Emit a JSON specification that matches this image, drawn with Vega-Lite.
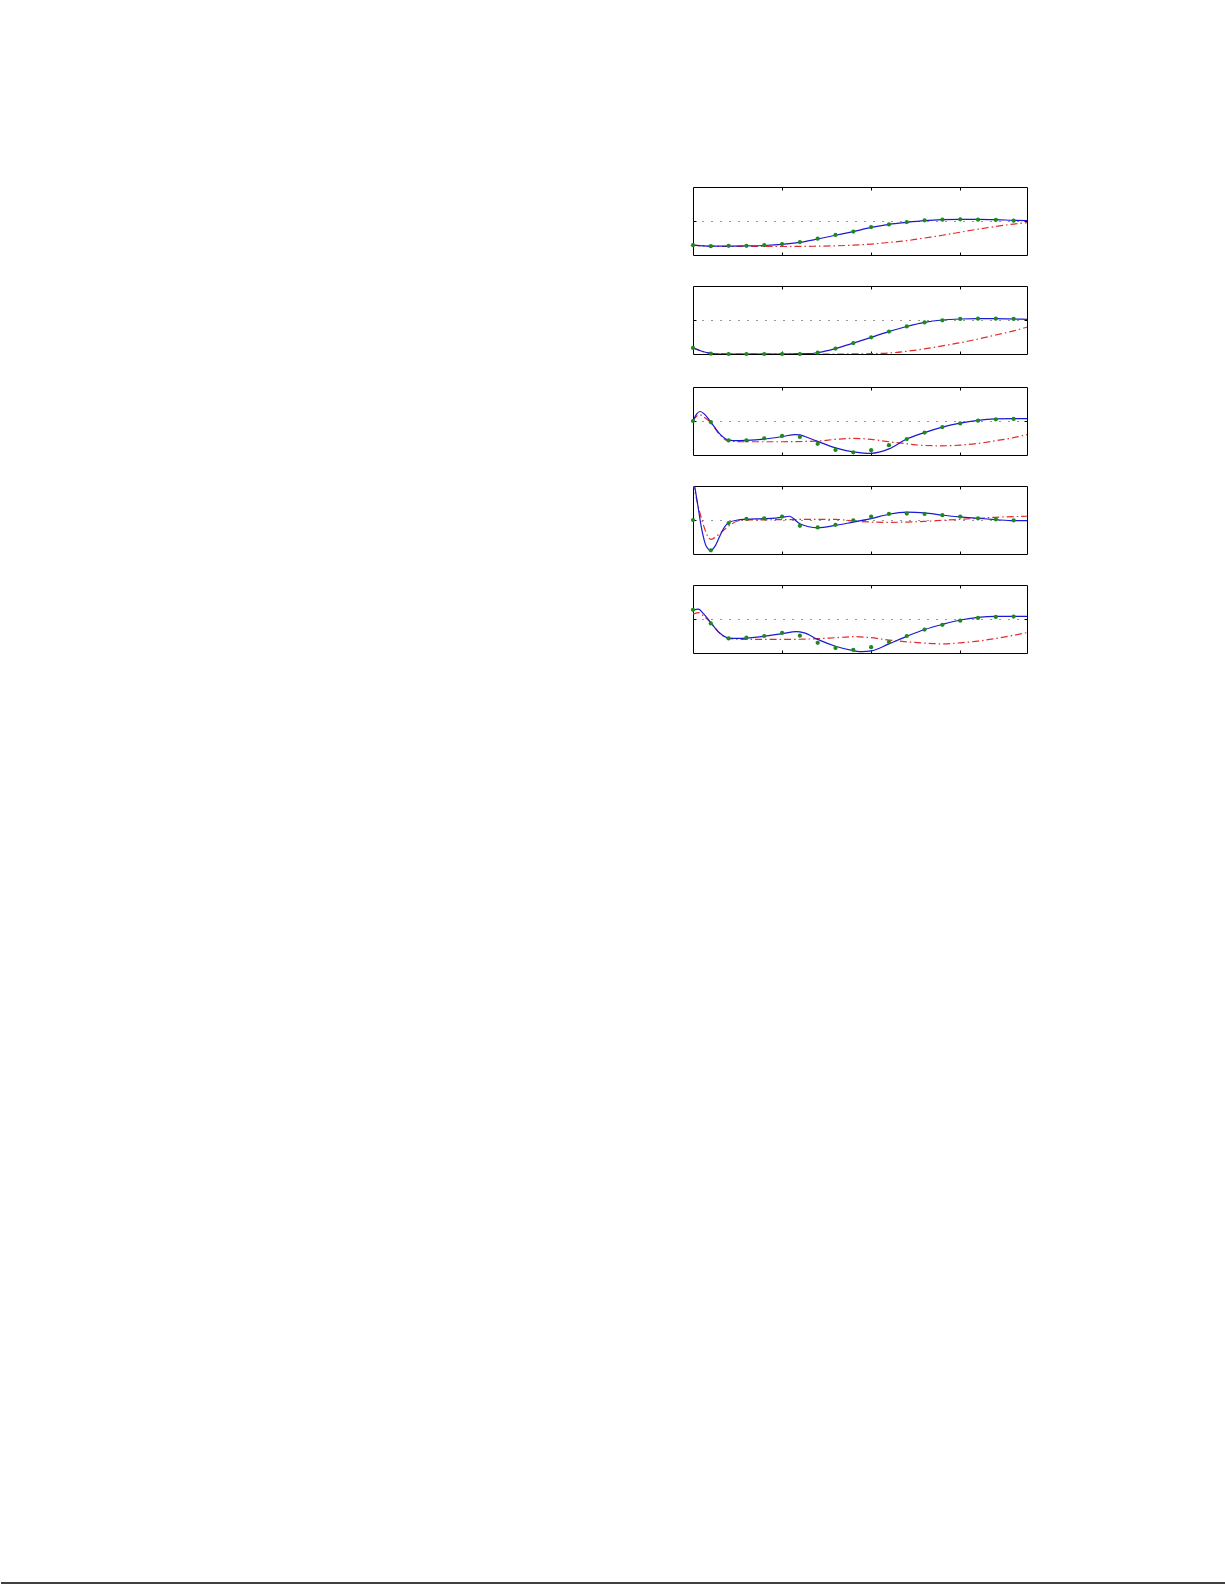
{
  "$schema": "https://vega.github.io/schema/vega-lite/v6.json",
  "padding": {"top": 186, "left": 0, "right": 0, "bottom": 0},
  "background": "white",
  "datasets": {
    "d": [
      {"p":1,"s":"b","x":0,"y":-0.71},{"p":1,"s":"b","x":0.2,"y":-0.74},{"p":1,"s":"b","x":0.4,"y":-0.74},{"p":1,"s":"b","x":0.6,"y":-0.73},{"p":1,"s":"b","x":0.8,"y":-0.72},{"p":1,"s":"b","x":1.0,"y":-0.69},{"p":1,"s":"b","x":1.2,"y":-0.63},{"p":1,"s":"b","x":1.4,"y":-0.53},{"p":1,"s":"b","x":1.6,"y":-0.42},{"p":1,"s":"b","x":1.8,"y":-0.31},{"p":1,"s":"b","x":2.0,"y":-0.19},{"p":1,"s":"b","x":2.2,"y":-0.10},{"p":1,"s":"b","x":2.4,"y":-0.04},{"p":1,"s":"b","x":2.6,"y":0.01},{"p":1,"s":"b","x":2.8,"y":0.04},{"p":1,"s":"b","x":3.0,"y":0.05},{"p":1,"s":"b","x":3.2,"y":0.05},{"p":1,"s":"b","x":3.4,"y":0.04},{"p":1,"s":"b","x":3.6,"y":0.02},{"p":1,"s":"b","x":3.75,"y":0.01},
      {"p":1,"s":"g","x":0,"y":-0.71},{"p":1,"s":"g","x":0.2,"y":-0.74},{"p":1,"s":"g","x":0.4,"y":-0.73},{"p":1,"s":"g","x":0.6,"y":-0.73},{"p":1,"s":"g","x":0.8,"y":-0.71},{"p":1,"s":"g","x":1.0,"y":-0.68},{"p":1,"s":"g","x":1.2,"y":-0.62},{"p":1,"s":"g","x":1.4,"y":-0.52},{"p":1,"s":"g","x":1.6,"y":-0.41},{"p":1,"s":"g","x":1.8,"y":-0.31},{"p":1,"s":"g","x":2.0,"y":-0.18},{"p":1,"s":"g","x":2.2,"y":-0.10},{"p":1,"s":"g","x":2.4,"y":-0.03},{"p":1,"s":"g","x":2.6,"y":0.02},{"p":1,"s":"g","x":2.8,"y":0.04},{"p":1,"s":"g","x":3.0,"y":0.05},{"p":1,"s":"g","x":3.2,"y":0.04},{"p":1,"s":"g","x":3.4,"y":0.03},{"p":1,"s":"g","x":3.6,"y":0.01},
      {"p":1,"s":"r","x":0,"y":-0.71},{"p":1,"s":"r","x":0.2,"y":-0.74},{"p":1,"s":"r","x":0.6,"y":-0.75},{"p":1,"s":"r","x":1.0,"y":-0.75},{"p":1,"s":"r","x":1.4,"y":-0.74},{"p":1,"s":"r","x":1.6,"y":-0.73},{"p":1,"s":"r","x":1.8,"y":-0.71},{"p":1,"s":"r","x":2.0,"y":-0.68},{"p":1,"s":"r","x":2.2,"y":-0.63},{"p":1,"s":"r","x":2.4,"y":-0.58},{"p":1,"s":"r","x":2.6,"y":-0.50},{"p":1,"s":"r","x":2.8,"y":-0.42},{"p":1,"s":"r","x":3.0,"y":-0.33},{"p":1,"s":"r","x":3.2,"y":-0.24},{"p":1,"s":"r","x":3.4,"y":-0.16},{"p":1,"s":"r","x":3.6,"y":-0.09},{"p":1,"s":"r","x":3.75,"y":-0.05},

      {"p":2,"s":"b","x":0,"y":-0.82},{"p":2,"s":"b","x":0.1,"y":-0.92},{"p":2,"s":"b","x":0.2,"y":-0.98},{"p":2,"s":"b","x":0.3,"y":-1.0},{"p":2,"s":"b","x":0.6,"y":-1.0},{"p":2,"s":"b","x":1.0,"y":-1.0},{"p":2,"s":"b","x":1.3,"y":-0.99},{"p":2,"s":"b","x":1.4,"y":-0.96},{"p":2,"s":"b","x":1.6,"y":-0.84},{"p":2,"s":"b","x":1.8,"y":-0.68},{"p":2,"s":"b","x":2.0,"y":-0.51},{"p":2,"s":"b","x":2.2,"y":-0.34},{"p":2,"s":"b","x":2.4,"y":-0.19},{"p":2,"s":"b","x":2.6,"y":-0.07},{"p":2,"s":"b","x":2.8,"y":0.0},{"p":2,"s":"b","x":3.0,"y":0.03},{"p":2,"s":"b","x":3.2,"y":0.04},{"p":2,"s":"b","x":3.4,"y":0.04},{"p":2,"s":"b","x":3.6,"y":0.03},{"p":2,"s":"b","x":3.75,"y":0.02},
      {"p":2,"s":"g","x":0,"y":-0.82},{"p":2,"s":"g","x":0.2,"y":-0.99},{"p":2,"s":"g","x":0.4,"y":-1.0},{"p":2,"s":"g","x":0.6,"y":-1.0},{"p":2,"s":"g","x":0.8,"y":-1.0},{"p":2,"s":"g","x":1.0,"y":-1.0},{"p":2,"s":"g","x":1.2,"y":-1.0},{"p":2,"s":"g","x":1.4,"y":-0.96},{"p":2,"s":"g","x":1.6,"y":-0.84},{"p":2,"s":"g","x":1.8,"y":-0.68},{"p":2,"s":"g","x":2.0,"y":-0.51},{"p":2,"s":"g","x":2.2,"y":-0.34},{"p":2,"s":"g","x":2.4,"y":-0.19},{"p":2,"s":"g","x":2.6,"y":-0.07},{"p":2,"s":"g","x":2.8,"y":-0.01},{"p":2,"s":"g","x":3.0,"y":0.03},{"p":2,"s":"g","x":3.2,"y":0.04},{"p":2,"s":"g","x":3.4,"y":0.04},{"p":2,"s":"g","x":3.6,"y":0.03},
      {"p":2,"s":"r","x":0,"y":-0.82},{"p":2,"s":"r","x":0.2,"y":-0.98},{"p":2,"s":"r","x":0.4,"y":-1.0},{"p":2,"s":"r","x":1.0,"y":-1.0},{"p":2,"s":"r","x":1.6,"y":-1.0},{"p":2,"s":"r","x":2.0,"y":-0.99},{"p":2,"s":"r","x":2.2,"y":-0.97},{"p":2,"s":"r","x":2.4,"y":-0.92},{"p":2,"s":"r","x":2.6,"y":-0.85},{"p":2,"s":"r","x":2.8,"y":-0.76},{"p":2,"s":"r","x":3.0,"y":-0.67},{"p":2,"s":"r","x":3.2,"y":-0.56},{"p":2,"s":"r","x":3.4,"y":-0.44},{"p":2,"s":"r","x":3.6,"y":-0.32},{"p":2,"s":"r","x":3.75,"y":-0.21},

      {"p":3,"s":"b","x":0,"y":0},{"p":3,"s":"b","x":0.04,"y":0.2},{"p":3,"s":"b","x":0.08,"y":0.28},{"p":3,"s":"b","x":0.12,"y":0.22},{"p":3,"s":"b","x":0.2,"y":-0.03},{"p":3,"s":"b","x":0.3,"y":-0.38},{"p":3,"s":"b","x":0.4,"y":-0.56},{"p":3,"s":"b","x":0.5,"y":-0.58},{"p":3,"s":"b","x":0.6,"y":-0.57},{"p":3,"s":"b","x":0.8,"y":-0.53},{"p":3,"s":"b","x":1.0,"y":-0.46},{"p":3,"s":"b","x":1.15,"y":-0.40},{"p":3,"s":"b","x":1.2,"y":-0.41},{"p":3,"s":"b","x":1.3,"y":-0.5},{"p":3,"s":"b","x":1.4,"y":-0.6},{"p":3,"s":"b","x":1.6,"y":-0.79},{"p":3,"s":"b","x":1.8,"y":-0.91},{"p":3,"s":"b","x":1.95,"y":-0.95},{"p":3,"s":"b","x":2.0,"y":-0.95},{"p":3,"s":"b","x":2.2,"y":-0.82},{"p":3,"s":"b","x":2.4,"y":-0.53},{"p":3,"s":"b","x":2.6,"y":-0.34},{"p":3,"s":"b","x":2.8,"y":-0.18},{"p":3,"s":"b","x":3.0,"y":-0.06},{"p":3,"s":"b","x":3.2,"y":0.02},{"p":3,"s":"b","x":3.4,"y":0.06},{"p":3,"s":"b","x":3.6,"y":0.07},{"p":3,"s":"b","x":3.75,"y":0.07},
      {"p":3,"s":"g","x":0,"y":0},{"p":3,"s":"g","x":0.2,"y":-0.03},{"p":3,"s":"g","x":0.4,"y":-0.57},{"p":3,"s":"g","x":0.6,"y":-0.57},{"p":3,"s":"g","x":0.8,"y":-0.51},{"p":3,"s":"g","x":1.0,"y":-0.44},{"p":3,"s":"g","x":1.2,"y":-0.47},{"p":3,"s":"g","x":1.4,"y":-0.67},{"p":3,"s":"g","x":1.6,"y":-0.85},{"p":3,"s":"g","x":1.8,"y":-0.92},{"p":3,"s":"g","x":2.0,"y":-0.86},{"p":3,"s":"g","x":2.2,"y":-0.71},{"p":3,"s":"g","x":2.4,"y":-0.53},{"p":3,"s":"g","x":2.6,"y":-0.34},{"p":3,"s":"g","x":2.8,"y":-0.18},{"p":3,"s":"g","x":3.0,"y":-0.07},{"p":3,"s":"g","x":3.2,"y":0.01},{"p":3,"s":"g","x":3.4,"y":0.05},{"p":3,"s":"g","x":3.6,"y":0.06},
      {"p":3,"s":"r","x":0,"y":0},{"p":3,"s":"r","x":0.04,"y":0.14},{"p":3,"s":"r","x":0.08,"y":0.18},{"p":3,"s":"r","x":0.12,"y":0.12},{"p":3,"s":"r","x":0.2,"y":-0.05},{"p":3,"s":"r","x":0.3,"y":-0.4},{"p":3,"s":"r","x":0.4,"y":-0.59},{"p":3,"s":"r","x":0.6,"y":-0.61},{"p":3,"s":"r","x":1.0,"y":-0.61},{"p":3,"s":"r","x":1.4,"y":-0.59},{"p":3,"s":"r","x":1.6,"y":-0.54},{"p":3,"s":"r","x":1.8,"y":-0.51},{"p":3,"s":"r","x":2.0,"y":-0.54},{"p":3,"s":"r","x":2.2,"y":-0.61},{"p":3,"s":"r","x":2.4,"y":-0.67},{"p":3,"s":"r","x":2.6,"y":-0.72},{"p":3,"s":"r","x":2.8,"y":-0.73},{"p":3,"s":"r","x":3.0,"y":-0.71},{"p":3,"s":"r","x":3.2,"y":-0.66},{"p":3,"s":"r","x":3.4,"y":-0.58},{"p":3,"s":"r","x":3.6,"y":-0.49},{"p":3,"s":"r","x":3.75,"y":-0.40},

      {"p":4,"s":"b","x":0,"y":1.3},{"p":4,"s":"b","x":0.05,"y":0.5},{"p":4,"s":"b","x":0.1,"y":-0.3},{"p":4,"s":"b","x":0.15,"y":-0.78},{"p":4,"s":"b","x":0.2,"y":-0.89},{"p":4,"s":"b","x":0.25,"y":-0.76},{"p":4,"s":"b","x":0.3,"y":-0.48},{"p":4,"s":"b","x":0.35,"y":-0.22},{"p":4,"s":"b","x":0.4,"y":-0.08},{"p":4,"s":"b","x":0.5,"y":0.0},{"p":4,"s":"b","x":0.6,"y":0.02},{"p":4,"s":"b","x":0.8,"y":0.04},{"p":4,"s":"b","x":1.0,"y":0.08},{"p":4,"s":"b","x":1.08,"y":0.11},{"p":4,"s":"b","x":1.2,"y":-0.11},{"p":4,"s":"b","x":1.4,"y":-0.23},{"p":4,"s":"b","x":1.6,"y":-0.16},{"p":4,"s":"b","x":1.8,"y":-0.06},{"p":4,"s":"b","x":2.0,"y":0.04},{"p":4,"s":"b","x":2.2,"y":0.17},{"p":4,"s":"b","x":2.4,"y":0.23},{"p":4,"s":"b","x":2.6,"y":0.21},{"p":4,"s":"b","x":2.8,"y":0.14},{"p":4,"s":"b","x":3.0,"y":0.09},{"p":4,"s":"b","x":3.2,"y":0.05},{"p":4,"s":"b","x":3.4,"y":0.01},{"p":4,"s":"b","x":3.6,"y":-0.02},{"p":4,"s":"b","x":3.75,"y":-0.02},
      {"p":4,"s":"g","x":0,"y":0},{"p":4,"s":"g","x":0.2,"y":-0.89},{"p":4,"s":"g","x":0.4,"y":-0.09},{"p":4,"s":"g","x":0.6,"y":0.03},{"p":4,"s":"g","x":0.8,"y":0.05},{"p":4,"s":"g","x":1.0,"y":0.1},{"p":4,"s":"g","x":1.2,"y":-0.17},{"p":4,"s":"g","x":1.4,"y":-0.22},{"p":4,"s":"g","x":1.6,"y":-0.14},{"p":4,"s":"g","x":1.8,"y":-0.01},{"p":4,"s":"g","x":2.0,"y":0.1},{"p":4,"s":"g","x":2.2,"y":0.18},{"p":4,"s":"g","x":2.4,"y":0.19},{"p":4,"s":"g","x":2.6,"y":0.18},{"p":4,"s":"g","x":2.8,"y":0.14},{"p":4,"s":"g","x":3.0,"y":0.1},{"p":4,"s":"g","x":3.2,"y":0.05},{"p":4,"s":"g","x":3.4,"y":0.02},{"p":4,"s":"g","x":3.6,"y":-0.01},
      {"p":4,"s":"r","x":0,"y":1.1},{"p":4,"s":"r","x":0.05,"y":0.5},{"p":4,"s":"r","x":0.1,"y":0.0},{"p":4,"s":"r","x":0.2,"y":-0.57},{"p":4,"s":"r","x":0.3,"y":-0.4},{"p":4,"s":"r","x":0.4,"y":-0.18},{"p":4,"s":"r","x":0.5,"y":-0.03},{"p":4,"s":"r","x":0.6,"y":0.0},{"p":4,"s":"r","x":1.0,"y":0.01},{"p":4,"s":"r","x":1.4,"y":0.02},{"p":4,"s":"r","x":1.6,"y":0.02},{"p":4,"s":"r","x":1.8,"y":-0.03},{"p":4,"s":"r","x":2.0,"y":-0.06},{"p":4,"s":"r","x":2.2,"y":-0.07},{"p":4,"s":"r","x":2.4,"y":-0.06},{"p":4,"s":"r","x":2.6,"y":-0.04},{"p":4,"s":"r","x":2.8,"y":-0.01},{"p":4,"s":"r","x":3.0,"y":0.02},{"p":4,"s":"r","x":3.2,"y":0.05},{"p":4,"s":"r","x":3.4,"y":0.08},{"p":4,"s":"r","x":3.6,"y":0.1},{"p":4,"s":"r","x":3.75,"y":0.11},

      {"p":5,"s":"b","x":0,"y":0.26},{"p":5,"s":"b","x":0.06,"y":0.29},{"p":5,"s":"b","x":0.12,"y":0.15},{"p":5,"s":"b","x":0.2,"y":-0.11},{"p":5,"s":"b","x":0.3,"y":-0.41},{"p":5,"s":"b","x":0.4,"y":-0.56},{"p":5,"s":"b","x":0.5,"y":-0.57},{"p":5,"s":"b","x":0.6,"y":-0.56},{"p":5,"s":"b","x":0.8,"y":-0.51},{"p":5,"s":"b","x":1.0,"y":-0.43},{"p":5,"s":"b","x":1.16,"y":-0.37},{"p":5,"s":"b","x":1.25,"y":-0.41},{"p":5,"s":"b","x":1.4,"y":-0.60},{"p":5,"s":"b","x":1.6,"y":-0.80},{"p":5,"s":"b","x":1.8,"y":-0.93},{"p":5,"s":"b","x":1.9,"y":-0.96},{"p":5,"s":"b","x":2.0,"y":-0.94},{"p":5,"s":"b","x":2.2,"y":-0.73},{"p":5,"s":"b","x":2.4,"y":-0.51},{"p":5,"s":"b","x":2.6,"y":-0.31},{"p":5,"s":"b","x":2.8,"y":-0.16},{"p":5,"s":"b","x":3.0,"y":-0.03},{"p":5,"s":"b","x":3.2,"y":0.05},{"p":5,"s":"b","x":3.4,"y":0.08},{"p":5,"s":"b","x":3.6,"y":0.08},{"p":5,"s":"b","x":3.75,"y":0.08},
      {"p":5,"s":"g","x":0,"y":0.27},{"p":5,"s":"g","x":0.2,"y":-0.13},{"p":5,"s":"g","x":0.4,"y":-0.57},{"p":5,"s":"g","x":0.6,"y":-0.55},{"p":5,"s":"g","x":0.8,"y":-0.50},{"p":5,"s":"g","x":1.0,"y":-0.41},{"p":5,"s":"g","x":1.2,"y":-0.49},{"p":5,"s":"g","x":1.4,"y":-0.70},{"p":5,"s":"g","x":1.6,"y":-0.85},{"p":5,"s":"g","x":1.8,"y":-0.91},{"p":5,"s":"g","x":2.0,"y":-0.83},{"p":5,"s":"g","x":2.2,"y":-0.68},{"p":5,"s":"g","x":2.4,"y":-0.50},{"p":5,"s":"g","x":2.6,"y":-0.31},{"p":5,"s":"g","x":2.8,"y":-0.17},{"p":5,"s":"g","x":3.0,"y":-0.05},{"p":5,"s":"g","x":3.2,"y":0.03},{"p":5,"s":"g","x":3.4,"y":0.06},{"p":5,"s":"g","x":3.6,"y":0.07},
      {"p":5,"s":"r","x":0,"y":0.14},{"p":5,"s":"r","x":0.06,"y":0.19},{"p":5,"s":"r","x":0.12,"y":0.08},{"p":5,"s":"r","x":0.2,"y":-0.11},{"p":5,"s":"r","x":0.3,"y":-0.42},{"p":5,"s":"r","x":0.4,"y":-0.57},{"p":5,"s":"r","x":0.6,"y":-0.60},{"p":5,"s":"r","x":1.0,"y":-0.60},{"p":5,"s":"r","x":1.4,"y":-0.58},{"p":5,"s":"r","x":1.6,"y":-0.55},{"p":5,"s":"r","x":1.8,"y":-0.52},{"p":5,"s":"r","x":2.0,"y":-0.55},{"p":5,"s":"r","x":2.2,"y":-0.62},{"p":5,"s":"r","x":2.4,"y":-0.67},{"p":5,"s":"r","x":2.6,"y":-0.71},{"p":5,"s":"r","x":2.8,"y":-0.73},{"p":5,"s":"r","x":3.0,"y":-0.70},{"p":5,"s":"r","x":3.2,"y":-0.65},{"p":5,"s":"r","x":3.4,"y":-0.57},{"p":5,"s":"r","x":3.6,"y":-0.48},{"p":5,"s":"r","x":3.75,"y":-0.40}
    ]
  },
  "spacing": 928,
  "vconcat": [
    {
      "spacing": 0,
      "hconcat": [
        {"width": 689, "height": 1, "view": {"stroke": null}, "data": {"values": []}, "mark": "point"},
        {
          "spacing": 29,
          "data": {"name": "d"},
          "vconcat": [
            {"width": 334, "height": 68, "transform": [{"filter": "datum.p == 1"}],
             "layer": [
              {"transform": [{"filter": "datum.s == 'r'"}], "mark": {"type": "line", "color": "#e32b2b", "strokeWidth": 1.2, "strokeDash": [7, 3, 1.5, 3], "interpolate": "monotone", "clip": true},
               "encoding": {"x": {"field": "x", "type": "quantitative", "scale": {"domain": [0, 3.75], "nice": false, "zero": false}, "axis": {"orient": "top", "values": [1, 2, 3]}},
                            "y": {"field": "y", "type": "quantitative", "scale": {"domain": [-1, 1], "nice": false}, "axis": {"orient": "right", "values": [0]}}}},
              {"transform": [{"filter": "datum.s == 'b'"}], "mark": {"type": "line", "color": "#1a1ad0", "strokeWidth": 1.2, "interpolate": "monotone", "clip": true},
               "encoding": {"x": {"field": "x", "type": "quantitative", "axis": {"orient": "bottom", "values": [1, 2, 3]}},
                            "y": {"field": "y", "type": "quantitative", "axis": {"orient": "left", "values": [0], "grid": true}}}},
              {"transform": [{"filter": "datum.s == 'g'"}], "mark": {"type": "circle", "color": "#1e8a1e", "size": 18, "opacity": 1},
               "encoding": {"x": {"field": "x", "type": "quantitative", "axis": null}, "y": {"field": "y", "type": "quantitative", "axis": null}}}
             ],
             "resolve": {"axis": {"x": "independent", "y": "independent"}}},
            {"width": 334, "height": 68, "transform": [{"filter": "datum.p == 2"}],
             "layer": [
              {"transform": [{"filter": "datum.s == 'r'"}], "mark": {"type": "line", "color": "#e32b2b", "strokeWidth": 1.2, "strokeDash": [7, 3, 1.5, 3], "interpolate": "monotone", "clip": true},
               "encoding": {"x": {"field": "x", "type": "quantitative", "scale": {"domain": [0, 3.75], "nice": false, "zero": false}, "axis": {"orient": "top", "values": [1, 2, 3]}},
                            "y": {"field": "y", "type": "quantitative", "scale": {"domain": [-1, 1], "nice": false}, "axis": {"orient": "right", "values": [0]}}}},
              {"transform": [{"filter": "datum.s == 'b'"}], "mark": {"type": "line", "color": "#1a1ad0", "strokeWidth": 1.2, "interpolate": "monotone", "clip": true},
               "encoding": {"x": {"field": "x", "type": "quantitative", "axis": {"orient": "bottom", "values": [1, 2, 3]}},
                            "y": {"field": "y", "type": "quantitative", "axis": {"orient": "left", "values": [0], "grid": true}}}},
              {"transform": [{"filter": "datum.s == 'g'"}], "mark": {"type": "circle", "color": "#1e8a1e", "size": 18, "opacity": 1},
               "encoding": {"x": {"field": "x", "type": "quantitative", "axis": null}, "y": {"field": "y", "type": "quantitative", "axis": null}}}
             ],
             "resolve": {"axis": {"x": "independent", "y": "independent"}}},
            {"width": 334, "height": 68, "transform": [{"filter": "datum.p == 3"}],
             "layer": [
              {"transform": [{"filter": "datum.s == 'r'"}], "mark": {"type": "line", "color": "#e32b2b", "strokeWidth": 1.2, "strokeDash": [7, 3, 1.5, 3], "interpolate": "monotone", "clip": true},
               "encoding": {"x": {"field": "x", "type": "quantitative", "scale": {"domain": [0, 3.75], "nice": false, "zero": false}, "axis": {"orient": "top", "values": [1, 2, 3]}},
                            "y": {"field": "y", "type": "quantitative", "scale": {"domain": [-1, 1], "nice": false}, "axis": {"orient": "right", "values": [0]}}}},
              {"transform": [{"filter": "datum.s == 'b'"}], "mark": {"type": "line", "color": "#1a1ad0", "strokeWidth": 1.2, "interpolate": "monotone", "clip": true},
               "encoding": {"x": {"field": "x", "type": "quantitative", "axis": {"orient": "bottom", "values": [1, 2, 3]}},
                            "y": {"field": "y", "type": "quantitative", "axis": {"orient": "left", "values": [0], "grid": true}}}},
              {"transform": [{"filter": "datum.s == 'g'"}], "mark": {"type": "circle", "color": "#1e8a1e", "size": 18, "opacity": 1},
               "encoding": {"x": {"field": "x", "type": "quantitative", "axis": null}, "y": {"field": "y", "type": "quantitative", "axis": null}}}
             ],
             "resolve": {"axis": {"x": "independent", "y": "independent"}}},
            {"width": 334, "height": 68, "transform": [{"filter": "datum.p == 4"}],
             "layer": [
              {"transform": [{"filter": "datum.s == 'r'"}], "mark": {"type": "line", "color": "#e32b2b", "strokeWidth": 1.2, "strokeDash": [7, 3, 1.5, 3], "interpolate": "monotone", "clip": true},
               "encoding": {"x": {"field": "x", "type": "quantitative", "scale": {"domain": [0, 3.75], "nice": false, "zero": false}, "axis": {"orient": "top", "values": [1, 2, 3]}},
                            "y": {"field": "y", "type": "quantitative", "scale": {"domain": [-1, 1], "nice": false}, "axis": {"orient": "right", "values": [0]}}}},
              {"transform": [{"filter": "datum.s == 'b'"}], "mark": {"type": "line", "color": "#1a1ad0", "strokeWidth": 1.2, "interpolate": "monotone", "clip": true},
               "encoding": {"x": {"field": "x", "type": "quantitative", "axis": {"orient": "bottom", "values": [1, 2, 3]}},
                            "y": {"field": "y", "type": "quantitative", "axis": {"orient": "left", "values": [0], "grid": true}}}},
              {"transform": [{"filter": "datum.s == 'g'"}], "mark": {"type": "circle", "color": "#1e8a1e", "size": 18, "opacity": 1},
               "encoding": {"x": {"field": "x", "type": "quantitative", "axis": null}, "y": {"field": "y", "type": "quantitative", "axis": null}}}
             ],
             "resolve": {"axis": {"x": "independent", "y": "independent"}}},
            {"width": 334, "height": 68, "transform": [{"filter": "datum.p == 5"}],
             "layer": [
              {"transform": [{"filter": "datum.s == 'r'"}], "mark": {"type": "line", "color": "#e32b2b", "strokeWidth": 1.2, "strokeDash": [7, 3, 1.5, 3], "interpolate": "monotone", "clip": true},
               "encoding": {"x": {"field": "x", "type": "quantitative", "scale": {"domain": [0, 3.75], "nice": false, "zero": false}, "axis": {"orient": "top", "values": [1, 2, 3]}},
                            "y": {"field": "y", "type": "quantitative", "scale": {"domain": [-1, 1], "nice": false}, "axis": {"orient": "right", "values": [0]}}}},
              {"transform": [{"filter": "datum.s == 'b'"}], "mark": {"type": "line", "color": "#1a1ad0", "strokeWidth": 1.2, "interpolate": "monotone", "clip": true},
               "encoding": {"x": {"field": "x", "type": "quantitative", "axis": {"orient": "bottom", "values": [1, 2, 3]}},
                            "y": {"field": "y", "type": "quantitative", "axis": {"orient": "left", "values": [0], "grid": true}}}},
              {"transform": [{"filter": "datum.s == 'g'"}], "mark": {"type": "circle", "color": "#1e8a1e", "size": 18, "opacity": 1},
               "encoding": {"x": {"field": "x", "type": "quantitative", "axis": null}, "y": {"field": "y", "type": "quantitative", "axis": null}}}
             ],
             "resolve": {"axis": {"x": "independent", "y": "independent"}}}
          ]
        }
      ]
    },
    {
      "width": 1225, "height": 2, "view": {"stroke": null},
      "data": {"values": [{"a": 0, "b": 1}]},
      "mark": {"type": "rule", "color": "black", "strokeWidth": 1.5},
      "encoding": {"x": {"field": "a", "type": "quantitative", "scale": {"domain": [0, 1], "nice": false}, "axis": null}, "x2": {"field": "b"}}
    }
  ],
  "config": {
    "view": {"stroke": "black", "strokeWidth": 1},
    "axis": {"labels": false, "domain": false, "ticks": true, "tickSize": -3, "tickColor": "black", "tickWidth": 1, "title": null, "grid": false, "gridColor": "#333333", "gridDash": [1, 8], "gridWidth": 1}
  }
}
